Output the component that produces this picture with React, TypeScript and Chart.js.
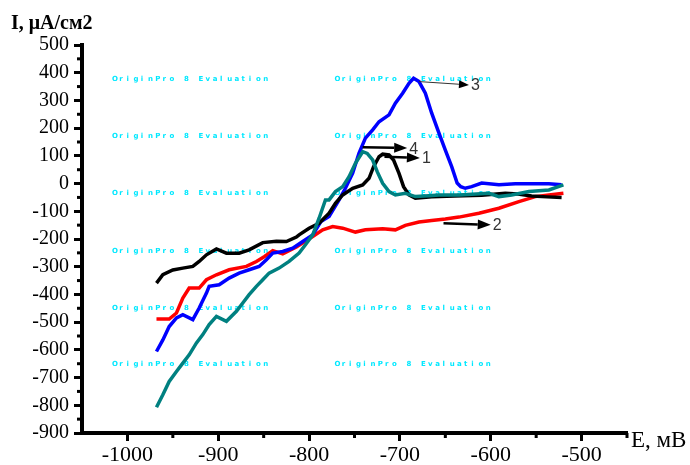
import React, { useEffect, useRef } from 'react';
import { Chart, registerables } from 'chart.js';
Chart.register(...registerables);

// Curve 1 (black)
const E1 = [-968, -961, -950, -939, -928, -921, -913, -902, -891, -877, -866, -851, -836, -825, -814, -811, -800, -789, -778, -771, -763, -752, -741, -734, -729, -723, -719, -712, -707, -701, -696, -690, -683, -665, -640, -610, -584, -570, -555, -538, -522];
const I1 = [-359, -329, -312, -305, -299, -281, -257, -236, -251, -251, -239, -213, -208, -209, -193, -185, -161, -143, -107, -71, -41, -17, -5, 19, 61, 97, 106, 103, 85, 37, -11, -41, -53, -48, -45, -42, -35, -38, -45, -48, -50];

// Curve 2 (red)
const E2 = [-968, -954, -946, -939, -932, -921, -913, -902, -888, -869, -858, -849, -840, -829, -814, -796, -785, -774, -763, -749, -738, -719, -705, -694, -679, -665, -650, -635, -613, -591, -569, -551, -536, -520];
const I2 = [-489, -489, -467, -413, -377, -377, -347, -329, -311, -299, -281, -263, -242, -254, -229, -191, -167, -155, -161, -175, -167, -163, -167, -151, -139, -133, -128, -121, -107, -89, -65, -47, -41, -35];

// Curve 3 (blue)
const E3 = [-968, -961, -954, -946, -939, -928, -921, -913, -910, -899, -888, -877, -866, -855, -847, -840, -829, -818, -807, -796, -787, -778, -767, -760, -752, -745, -738, -730, -723, -712, -705, -697, -690, -685, -679, -672, -665, -657, -650, -643, -637, -633, -628, -621, -610, -591, -573, -555, -536, -522];
const I3 = [-606, -564, -516, -485, -473, -491, -449, -395, -371, -365, -341, -323, -311, -299, -275, -251, -245, -233, -209, -185, -137, -119, -59, -17, 38, 110, 164, 194, 223, 248, 290, 326, 362, 380, 368, 326, 254, 182, 121, 61, 2, -11, -17, -11, 2, -4, -1, -1, -1, -4];

// Curve 4 (teal)
const E4 = [-968, -961, -954, -946, -939, -932, -924, -917, -910, -902, -891, -880, -873, -866, -858, -851, -844, -833, -822, -811, -804, -796, -789, -782, -778, -771, -763, -756, -749, -741, -736, -730, -725, -719, -712, -705, -694, -683, -668, -657, -635, -602, -591, -577, -558, -536, -520];
const I4 = [-807, -762, -714, -678, -648, -618, -575, -545, -509, -479, -497, -461, -431, -401, -371, -347, -323, -305, -281, -251, -221, -185, -125, -59, -59, -29, -11, 25, 73, 115, 109, 85, 43, 1, -29, -41, -35, -47, -44, -41, -41, -35, -47, -41, -29, -23, -5];

// Tick labels
const xLabelValues = [-1000, -900, -800, -700, -600, -500];
const yLabelValues = [500, 400, 300, 200, 100, 0, -100, -200, -300, -400, -500, -600, -700, -800, -900];
const xMinorValues = [-950, -850, -750, -650, -550, -450];
const yMinorValues = [450, 350, 250, 150, 50, -50, -150, -250, -350, -450, -550, -650, -750, -850];

// Annotations (curve numbers with arrows), data coordinates
const annLabels = ['1', '2', '3', '4'];
const annFromE = [-717, -652, -679, -741];
const annFromI = [97, -143, 368, 131];
const annToE = [-678, -600, -624, -692];
const annToI = [92, -149, 356, 128];

// Watermark text positions (data coordinates)
const wmText = 'OriginPro 8 Evaluation';
const wmRowsI = [377, 172, -35, -243, -448, -652];
const wmColsE = [-1017, -772];

const yTitle = 'I, μA/см2';
const xTitle = 'E, мВ';

export default function App() {
  const ref = useRef<HTMLCanvasElement>(null);
  useEffect(() => {
    const canvas = ref.current!;
    const mk = (E: number[], I: number[]) => E.map((e, i) => ({ x: e, y: I[i] }));
    const majorColor = (ctx: any) => (ctx.tick && ctx.tick.value % 100 === 0 ? '#000' : 'rgba(0,0,0,0)');

    const overlay = {
      id: 'overlay',
      beforeDatasetsDraw(chart: any) {
        const c = chart.ctx;
        const xs = chart.scales.x, ys = chart.scales.y;
        c.save();
        c.fillStyle = '#00e8ff';
        c.font = 'bold 7px "DejaVu Sans"';
        c.textBaseline = 'middle';
        c.textAlign = 'left';
        for (const r of wmRowsI) {
          for (const col of wmColsE) {
            const x0 = xs.getPixelForValue(col);
            const y0 = ys.getPixelForValue(r);
            for (let k = 0; k < wmText.length; k++) {
              c.fillText(wmText[k], x0 + k * 7.2, y0);
            }
          }
        }
        c.restore();
      },
      afterDraw(chart: any) {
        const c = chart.ctx;
        const xs = chart.scales.x, ys = chart.scales.y;
        const ca = chart.chartArea;
        c.save();
        // minor ticks
        c.fillStyle = '#000';
        for (const v of xMinorValues) {
          const px = xs.getPixelForValue(v);
          c.fillRect(px - 1.5, ca.bottom, 3, 5);
        }
        for (const v of yMinorValues) {
          const py = ys.getPixelForValue(v);
          c.fillRect(ca.left - 5, py - 1.5, 5, 3);
        }
        // arrows
        for (let i = 0; i < annLabels.length; i++) {
          const x1 = xs.getPixelForValue(annFromE[i]);
          const y1 = ys.getPixelForValue(annFromI[i]);
          const x2 = xs.getPixelForValue(annToE[i]);
          const y2 = ys.getPixelForValue(annToI[i]);
          const thin = annLabels[i] === '3';
          const ang = Math.atan2(y2 - y1, x2 - x1);
          const hl = thin ? 10 : 13, hw = thin ? 4 : 5;
          c.strokeStyle = thin ? '#333' : '#000';
          c.lineWidth = thin ? 1 : 2.5;
          c.beginPath();
          c.moveTo(x1, y1);
          c.lineTo(x2 - hl * Math.cos(ang), y2 - hl * Math.sin(ang));
          c.stroke();
          c.fillStyle = '#000';
          c.beginPath();
          c.moveTo(x2, y2);
          c.lineTo(x2 - hl * Math.cos(ang) - hw * Math.sin(ang), y2 - hl * Math.sin(ang) + hw * Math.cos(ang));
          c.lineTo(x2 - hl * Math.cos(ang) + hw * Math.sin(ang), y2 - hl * Math.sin(ang) - hw * Math.cos(ang));
          c.closePath();
          c.fill();
          c.fillStyle = '#333';
          c.font = '16px "Liberation Sans"';
          c.textAlign = 'left';
          c.textBaseline = 'middle';
          c.fillText(annLabels[i], x2 + 2, y2 + 1);
        }
        // axis titles
        c.fillStyle = '#000';
        c.font = 'bold 20px "Liberation Serif"';
        c.textAlign = 'left';
        c.textBaseline = 'alphabetic';
        c.fillText(yTitle, 11, ca.top - 16);
        c.font = '23px "Liberation Serif"';
        c.fillText(xTitle, ca.right + 4, ca.bottom + 14);
        c.restore();
      },
    };

    const chart = new Chart(canvas, {
      type: 'line',
      data: {
        datasets: [
          { label: '4', data: mk(E4, I4), borderColor: '#008080', borderWidth: 3.5, pointRadius: 0, tension: 0, fill: false, order: 1 },
          { label: '1', data: mk(E1, I1), borderColor: '#000000', borderWidth: 3.5, pointRadius: 0, tension: 0, fill: false, order: 2 },
          { label: '3', data: mk(E3, I3), borderColor: '#0000ff', borderWidth: 3.5, pointRadius: 0, tension: 0, fill: false, order: 3 },
          { label: '2', data: mk(E2, I2), borderColor: '#ff0000', borderWidth: 3.5, pointRadius: 0, tension: 0, fill: false, order: 4 },
        ],
      },
      options: {
        animation: false,
        responsive: false,
        maintainAspectRatio: false,
        layout: { padding: { left: 0, top: 45, right: 63, bottom: 0 } },
        plugins: { legend: { display: false }, tooltip: { enabled: false } },
        scales: {
          x: {
            type: 'linear',
            min: -1050,
            max: -450,
            afterFit: (s: any) => { s.height = 32; },
            border: { display: true, color: '#000', width: 4 },
            grid: { drawOnChartArea: false, drawTicks: true, tickLength: 8, tickWidth: 3, tickColor: majorColor },
            ticks: {
              stepSize: 50,
              autoSkip: false,
              maxRotation: 0,
              padding: 1,
              color: '#000',
              font: { family: '"Liberation Serif"', size: 22 },
              callback: (v: any) => (xLabelValues.includes(Number(v)) ? String(v) : ''),
            },
          },
          y: {
            type: 'linear',
            min: -900,
            max: 500,
            afterFit: (s: any) => { s.width = 82; },
            border: { display: true, color: '#000', width: 4 },
            grid: { drawOnChartArea: false, drawTicks: true, tickLength: 8, tickWidth: 3, tickColor: majorColor },
            ticks: {
              stepSize: 50,
              autoSkip: false,
              padding: 5,
              color: '#000',
              font: { family: '"Liberation Serif"', size: 20 },
              callback: (v: any) => (yLabelValues.includes(Number(v)) ? String(v) : ''),
            },
          },
        },
      },
      plugins: [overlay],
    } as any);
    return () => chart.destroy();
  }, []);
  return (
    <div style={{ position: 'fixed', left: 0, top: 0, width: 690, height: 465, background: '#fff' }}>
      <canvas ref={ref} width={690} height={465} style={{ width: 690, height: 465, display: 'block' }} />
    </div>
  );
}
